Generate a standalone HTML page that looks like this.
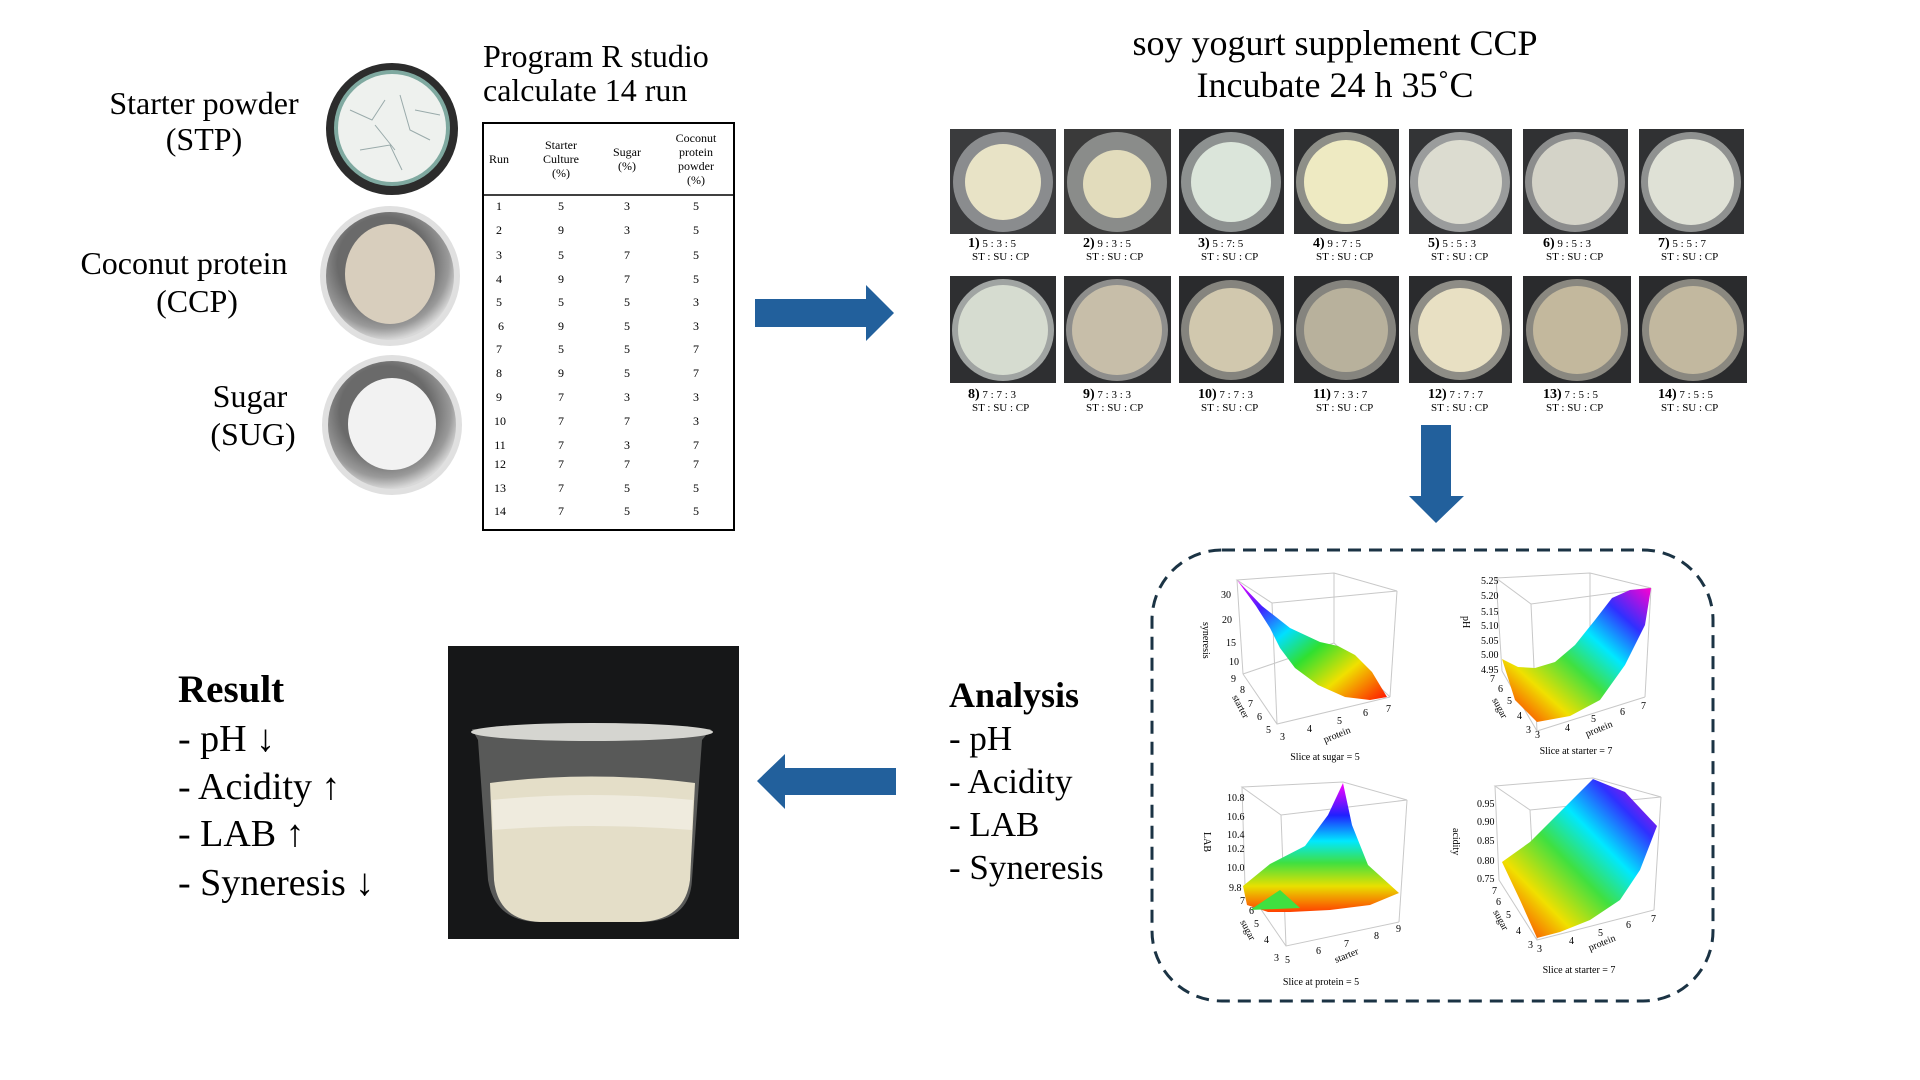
<!DOCTYPE html>
<html><head><meta charset="utf-8">
<style>
html,body{margin:0;padding:0;background:#fff;}
svg{display:block;}
text{font-family:"Liberation Serif",serif;fill:#000;}
.t{font-size:10px;fill:#222;}
</style></head>
<body>
<svg width="1920" height="1080" viewBox="0 0 1920 1080" xmlns="http://www.w3.org/2000/svg">
<defs>
<linearGradient id="rb1" x1="0" y1="0" x2="1" y2="1">
<stop offset="0" stop-color="#ff00ff"/><stop offset="0.2" stop-color="#4020ff"/><stop offset="0.38" stop-color="#00e0ff"/><stop offset="0.55" stop-color="#30e030"/><stop offset="0.75" stop-color="#f0e000"/><stop offset="1" stop-color="#ff1000"/>
</linearGradient>
<linearGradient id="rb2" x1="1" y1="0" x2="0" y2="1">
<stop offset="0" stop-color="#ff00d0"/><stop offset="0.2" stop-color="#3030ff"/><stop offset="0.38" stop-color="#00e8ff"/><stop offset="0.55" stop-color="#40e040"/><stop offset="0.75" stop-color="#f0e000"/><stop offset="1" stop-color="#ff1000"/>
</linearGradient>
<linearGradient id="rb3" x1="0" y1="0" x2="0" y2="1">
<stop offset="0" stop-color="#ff00ff"/><stop offset="0.25" stop-color="#2020ff"/><stop offset="0.45" stop-color="#00e8ff"/><stop offset="0.62" stop-color="#40e040"/><stop offset="0.8" stop-color="#e8e000"/><stop offset="1" stop-color="#ff4000"/>
</linearGradient>
<radialGradient id="metal" cx="0.45" cy="0.4" r="0.6">
<stop offset="0.6" stop-color="#6a6a6a"/><stop offset="0.85" stop-color="#9a9a9a"/><stop offset="1" stop-color="#d8d8d8"/>
</radialGradient>
</defs>

<!-- Left texts -->
<text x="204" y="114" font-size="32" text-anchor="middle">Starter powder</text>
<text x="204" y="150" font-size="32" text-anchor="middle">(STP)</text>
<text x="184" y="274" font-size="32" text-anchor="middle">Coconut protein</text>
<text x="197" y="312" font-size="32" text-anchor="middle">(CCP)</text>
<text x="250" y="407" font-size="32" text-anchor="middle">Sugar</text>
<text x="253" y="445" font-size="32" text-anchor="middle">(SUG)</text>

<!-- Dishes -->
<circle cx="392" cy="129" r="66" fill="#2c2c2c"/>
<circle cx="392" cy="128" r="58" fill="#7fa9a0"/>
<circle cx="392" cy="128" r="54" fill="#eef1ee"/>
<path d="M350 110 L372 120 L385 100 M400 95 L410 130 L430 140 M360 150 L390 145 L402 170 M375 125 L395 150 M415 110 L440 115" stroke="#9aa" stroke-width="1" fill="none"/>

<circle cx="390" cy="276" r="70" fill="#e0e0e0"/>
<circle cx="390" cy="276" r="64" fill="url(#metal)"/>
<ellipse cx="390" cy="274" rx="45" ry="50" fill="#d8cebd"/>
<circle cx="392" cy="425" r="70" fill="#e0e0e0"/>
<circle cx="392" cy="425" r="64" fill="url(#metal)"/>
<ellipse cx="392" cy="424" rx="44" ry="46" fill="#f2f2f2"/>

<!-- Program R studio -->
<text x="483" y="67" font-size="32">Program R studio</text>
<text x="483" y="101" font-size="32">calculate 14 run</text>

<!-- Table -->
<rect x="483" y="123" width="251" height="407" fill="none" stroke="#000" stroke-width="2"/>
<line x1="483" y1="195" x2="734" y2="195" stroke="#000" stroke-width="1.5"/>
<g font-size="12" text-anchor="middle">
<text x="499" y="163">Run</text>
<text x="561" y="149">Starter</text><text x="561" y="163">Culture</text><text x="561" y="177">(%)</text>
<text x="627" y="156">Sugar</text><text x="627" y="170">(%)</text>
<text x="696" y="142">Coconut</text><text x="696" y="156">protein</text><text x="696" y="170">powder</text><text x="696" y="184">(%)</text>
</g>
<g font-size="12" text-anchor="middle">
<text x="499" y="210">1</text><text x="561" y="210">5</text><text x="627" y="210">3</text><text x="696" y="210">5</text>
<text x="499" y="234">2</text><text x="561" y="234">9</text><text x="627" y="234">3</text><text x="696" y="234">5</text>
<text x="499" y="259">3</text><text x="561" y="259">5</text><text x="627" y="259">7</text><text x="696" y="259">5</text>
<text x="499" y="283">4</text><text x="561" y="283">9</text><text x="627" y="283">7</text><text x="696" y="283">5</text>
<text x="499" y="306">5</text><text x="561" y="306">5</text><text x="627" y="306">5</text><text x="696" y="306">3</text>
<text x="501" y="330">6</text><text x="561" y="330">9</text><text x="627" y="330">5</text><text x="696" y="330">3</text>
<text x="499" y="353">7</text><text x="561" y="353">5</text><text x="627" y="353">5</text><text x="696" y="353">7</text>
<text x="499" y="377">8</text><text x="561" y="377">9</text><text x="627" y="377">5</text><text x="696" y="377">7</text>
<text x="499" y="401">9</text><text x="561" y="401">7</text><text x="627" y="401">3</text><text x="696" y="401">3</text>
<text x="500" y="425">10</text><text x="561" y="425">7</text><text x="627" y="425">7</text><text x="696" y="425">3</text>
<text x="500" y="449">11</text><text x="561" y="449">7</text><text x="627" y="449">3</text><text x="696" y="449">7</text>
<text x="500" y="468">12</text><text x="561" y="468">7</text><text x="627" y="468">7</text><text x="696" y="468">7</text>
<text x="500" y="492">13</text><text x="561" y="492">7</text><text x="627" y="492">5</text><text x="696" y="492">5</text>
<text x="500" y="515">14</text><text x="561" y="515">7</text><text x="627" y="515">5</text><text x="696" y="515">5</text>
</g>

<!-- Right arrow -->
<polygon points="755,299 866,299 866,285 894,313 866,341 866,327 755,327" fill="#22609c"/>

<!-- Title right -->
<text x="1335" y="55" font-size="36" text-anchor="middle">soy yogurt supplement CCP</text>
<text x="1335" y="97" font-size="36" text-anchor="middle">Incubate 24 h 35˚C</text>

<!-- Photo grid -->
<g>
<rect x="950" y="129" width="106" height="105" fill="#3a3b3d"/><circle cx="1003" cy="182" r="50" fill="#8a8c8e"/><circle cx="1003" cy="182" r="38" fill="#e8e3c6"/>
<rect x="1064" y="129" width="107" height="105" fill="#3a3a3a"/><circle cx="1117" cy="182" r="50" fill="#8a8c8a"/><circle cx="1117" cy="184" r="34" fill="#e2dcbc"/>
<rect x="1179" y="129" width="105" height="105" fill="#2e2f31"/><circle cx="1231" cy="182" r="50" fill="#8d9190"/><circle cx="1231" cy="182" r="40" fill="#dbe5da"/>
<rect x="1294" y="129" width="105" height="105" fill="#2f3032"/><circle cx="1346" cy="182" r="50" fill="#8e8f88"/><circle cx="1346" cy="182" r="42" fill="#eeeac2"/>
<rect x="1409" y="129" width="103" height="105" fill="#333436"/><circle cx="1460" cy="182" r="50" fill="#9a9c9c"/><circle cx="1460" cy="182" r="42" fill="#dcdcd0"/>
<rect x="1523" y="129" width="105" height="105" fill="#303133"/><circle cx="1575" cy="182" r="50" fill="#8c8d8d"/><circle cx="1575" cy="182" r="43" fill="#d4d3c8"/>
<rect x="1639" y="129" width="105" height="105" fill="#303133"/><circle cx="1691" cy="182" r="50" fill="#8f9190"/><circle cx="1691" cy="182" r="43" fill="#dfe1d6"/>

<rect x="950" y="276" width="106" height="107" fill="#2e2f31"/><circle cx="1003" cy="330" r="51" fill="#a0a4a2"/><circle cx="1003" cy="330" r="45" fill="#d6dcd0"/>
<rect x="1064" y="276" width="107" height="107" fill="#2e2f31"/><circle cx="1117" cy="330" r="51" fill="#8e8e8c"/><circle cx="1117" cy="330" r="45" fill="#c7bea9"/>
<rect x="1179" y="276" width="105" height="107" fill="#2a2b2d"/><circle cx="1231" cy="330" r="50" fill="#85847e"/><circle cx="1231" cy="330" r="42" fill="#d1c8ae"/>
<rect x="1294" y="276" width="105" height="107" fill="#2a2b2d"/><circle cx="1346" cy="330" r="50" fill="#85847e"/><circle cx="1346" cy="330" r="42" fill="#b8b19c"/>
<rect x="1409" y="276" width="103" height="107" fill="#2a2b2d"/><circle cx="1460" cy="330" r="50" fill="#8e8d86"/><circle cx="1460" cy="330" r="42" fill="#e8e0c3"/>
<rect x="1523" y="276" width="108" height="107" fill="#2a2b2d"/><circle cx="1577" cy="330" r="51" fill="#8a8880"/><circle cx="1577" cy="330" r="44" fill="#c3b89d"/>
<rect x="1639" y="276" width="108" height="107" fill="#2a2b2d"/><circle cx="1693" cy="330" r="51" fill="#8a8880"/><circle cx="1693" cy="330" r="44" fill="#c2b89f"/>
</g>
<g font-size="11">
<text x="968" y="247"><tspan font-weight="bold" font-size="14">1)</tspan> 5 : 3 : 5</text>
<text x="1083" y="247"><tspan font-weight="bold" font-size="14">2)</tspan> 9 : 3 : 5</text>
<text x="1198" y="247"><tspan font-weight="bold" font-size="14">3)</tspan> 5 : 7: 5</text>
<text x="1313" y="247"><tspan font-weight="bold" font-size="14">4)</tspan> 9 : 7 : 5</text>
<text x="1428" y="247"><tspan font-weight="bold" font-size="14">5)</tspan> 5 : 5 : 3</text>
<text x="1543" y="247"><tspan font-weight="bold" font-size="14">6)</tspan> 9 : 5 : 3</text>
<text x="1658" y="247"><tspan font-weight="bold" font-size="14">7)</tspan> 5 : 5 : 7</text>
<text x="972" y="260">ST : SU : CP</text><text x="1086" y="260">ST : SU : CP</text><text x="1201" y="260">ST : SU : CP</text><text x="1316" y="260">ST : SU : CP</text><text x="1431" y="260">ST : SU : CP</text><text x="1546" y="260">ST : SU : CP</text><text x="1661" y="260">ST : SU : CP</text>
<text x="968" y="398"><tspan font-weight="bold" font-size="14">8)</tspan> 7 : 7 : 3</text>
<text x="1083" y="398"><tspan font-weight="bold" font-size="14">9)</tspan> 7 : 3 : 3</text>
<text x="1198" y="398"><tspan font-weight="bold" font-size="14">10)</tspan> 7 : 7 : 3</text>
<text x="1313" y="398"><tspan font-weight="bold" font-size="14">11)</tspan> 7 : 3 : 7</text>
<text x="1428" y="398"><tspan font-weight="bold" font-size="14">12)</tspan> 7 : 7 : 7</text>
<text x="1543" y="398"><tspan font-weight="bold" font-size="14">13)</tspan> 7 : 5 : 5</text>
<text x="1658" y="398"><tspan font-weight="bold" font-size="14">14)</tspan> 7 : 5 : 5</text>
<text x="972" y="411">ST : SU : CP</text><text x="1086" y="411">ST : SU : CP</text><text x="1201" y="411">ST : SU : CP</text><text x="1316" y="411">ST : SU : CP</text><text x="1431" y="411">ST : SU : CP</text><text x="1546" y="411">ST : SU : CP</text><text x="1661" y="411">ST : SU : CP</text>
</g>

<!-- Down arrow -->
<polygon points="1421,425 1451,425 1451,496 1464,496 1436,523 1409,496 1421,496" fill="#22609c"/>

<!-- Dashed box -->
<rect x="1152" y="550" width="561" height="451" rx="70" ry="70" fill="none" stroke="#1b3344" stroke-width="3" stroke-dasharray="13 8"/>

<!-- Analysis -->
<text x="949" y="707" font-size="36" font-weight="bold">Analysis</text>
<text x="949" y="750" font-size="35">- pH</text>
<text x="949" y="793" font-size="35">- Acidity</text>
<text x="949" y="836" font-size="35">- LAB</text>
<text x="949" y="879" font-size="35">- Syneresis</text>

<!-- Plot TL -->
<g stroke="#c8c8c8" stroke-width="1" fill="none">
<polygon points="1237,580 1334,573 1397,591 1272,603"/>
<line x1="1272" y1="603" x2="1277" y2="724"/><line x1="1397" y1="591" x2="1390" y2="697"/><line x1="1237" y1="580" x2="1243" y2="674"/><line x1="1334" y1="573" x2="1334" y2="643"/>
<polyline points="1243,674 1277,724 1390,697"/><polyline points="1243,674 1334,643 1390,697"/>
</g>
<polygon points="1237,580 1262,606 1290,628 1320,642 1338,646 1355,655 1372,672 1387,697 1370,700 1345,697 1318,685 1295,668 1280,648 1270,628 1256,606" fill="url(#rb1)"/>
<g class="t">
<text x="1221" y="598">30</text><text x="1222" y="623">20</text><text x="1226" y="646">15</text><text x="1229" y="665">10</text>
<text x="1231" y="682">9</text><text x="1240" y="693">8</text><text x="1248" y="707">7</text><text x="1257" y="720">6</text><text x="1266" y="733">5</text>
<text x="1280" y="740">3</text><text x="1307" y="732">4</text><text x="1337" y="724">5</text><text x="1363" y="716">6</text><text x="1386" y="712">7</text>
<text transform="translate(1203,622) rotate(90)">syneresis</text>
<text transform="translate(1232,697) rotate(62)">starter</text>
<text transform="translate(1325,743) rotate(-22)">protein</text>
<text x="1325" y="760" text-anchor="middle">Slice at sugar = 5</text>
</g>

<!-- Plot TR -->
<g stroke="#c8c8c8" stroke-width="1" fill="none">
<polygon points="1496,578 1590,573 1651,588 1531,604"/>
<line x1="1531" y1="604" x2="1537" y2="731"/><line x1="1651" y1="588" x2="1645" y2="697"/><line x1="1496" y1="578" x2="1502" y2="671"/><line x1="1590" y1="573" x2="1590" y2="640"/>
<polyline points="1502,671 1537,731 1645,697"/>
</g>
<polygon points="1502,659 1518,667 1535,668 1555,662 1575,645 1595,620 1612,598 1630,590 1651,588 1645,625 1625,665 1600,700 1570,716 1537,722 1515,700" fill="url(#rb2)"/>
<g class="t">
<text x="1481" y="584">5.25</text><text x="1481" y="599">5.20</text><text x="1481" y="615">5.15</text><text x="1481" y="629">5.10</text><text x="1481" y="644">5.05</text><text x="1481" y="658">5.00</text><text x="1481" y="673">4.95</text>
<text transform="translate(1463,616) rotate(90)">pH</text>
<text x="1490" y="682">7</text><text x="1498" y="692">6</text><text x="1507" y="704">5</text><text x="1517" y="719">4</text><text x="1526" y="733">3</text>
<text transform="translate(1492,700) rotate(62)">sugar</text>
<text x="1535" y="738">3</text><text x="1565" y="731">4</text><text x="1591" y="722">5</text><text x="1620" y="715">6</text><text x="1641" y="709">7</text>
<text transform="translate(1587,737) rotate(-22)">protein</text>
<text x="1576" y="754" text-anchor="middle">Slice at starter = 7</text>
</g>

<!-- Plot BL -->
<g stroke="#c8c8c8" stroke-width="1" fill="none">
<polygon points="1242,787 1343,782 1407,800 1281,815"/>
<line x1="1281" y1="815" x2="1286" y2="946"/><line x1="1407" y1="800" x2="1399" y2="922"/><line x1="1242" y1="787" x2="1245" y2="886"/>
<polyline points="1245,886 1286,946 1399,922"/>
</g>
<polygon points="1343,783 1352,825 1368,865 1399,893 1370,905 1330,910 1290,912 1268,912 1247,905 1243,886 1270,864 1305,846 1328,815" fill="url(#rb3)"/>
<polygon points="1250,910 1280,890 1300,908" fill="#40e040"/>
<g class="t">
<text x="1227" y="801">10.8</text><text x="1227" y="820">10.6</text><text x="1227" y="838">10.4</text><text x="1227" y="852">10.2</text><text x="1227" y="871">10.0</text><text x="1229" y="891">9.8</text>
<text transform="translate(1204,832) rotate(90)">LAB</text>
<text x="1240" y="904">7</text><text x="1249" y="914">6</text><text x="1254" y="927">5</text><text x="1264" y="943">4</text><text x="1274" y="961">3</text>
<text transform="translate(1240,922) rotate(62)">sugar</text>
<text x="1285" y="963">5</text><text x="1316" y="954">6</text><text x="1344" y="947">7</text><text x="1374" y="939">8</text><text x="1396" y="932">9</text>
<text transform="translate(1336,963) rotate(-22)">starter</text>
<text x="1321" y="985" text-anchor="middle">Slice at protein = 5</text>
</g>

<!-- Plot BR -->
<g stroke="#c8c8c8" stroke-width="1" fill="none">
<polygon points="1495,786 1593,778 1661,797 1530,810"/>
<line x1="1530" y1="810" x2="1537" y2="940"/><line x1="1661" y1="797" x2="1654" y2="910"/><line x1="1495" y1="786" x2="1499" y2="880"/>
<polyline points="1499,880 1537,940 1654,910"/>
</g>
<polygon points="1502,862 1530,842 1560,812 1593,779 1625,792 1657,826 1640,870 1620,900 1590,920 1560,932 1537,938 1520,900" fill="url(#rb2)"/>
<g class="t">
<text x="1477" y="807">0.95</text><text x="1477" y="825">0.90</text><text x="1477" y="844">0.85</text><text x="1477" y="864">0.80</text><text x="1477" y="882">0.75</text>
<text transform="translate(1453,828) rotate(90)">acidity</text>
<text x="1492" y="894">7</text><text x="1496" y="905">6</text><text x="1506" y="918">5</text><text x="1516" y="934">4</text><text x="1528" y="948">3</text>
<text transform="translate(1493,912) rotate(62)">sugar</text>
<text x="1537" y="952">3</text><text x="1569" y="944">4</text><text x="1598" y="936">5</text><text x="1626" y="928">6</text><text x="1651" y="922">7</text>
<text transform="translate(1590,951) rotate(-22)">protein</text>
<text x="1579" y="973" text-anchor="middle">Slice at starter = 7</text>
</g>

<!-- Left arrow -->
<polygon points="896,768 785,768 785,754 757,781 785,809 785,795 896,795" fill="#22609c"/>

<!-- Cup photo -->
<rect x="448" y="646" width="291" height="293" fill="#161718"/>
<path d="M472 729 L478 740 L488 880 Q495 922 540 922 L640 922 Q690 922 692 880 L702 740 L711 729 Z" fill="#9a9b98" opacity="0.5"/>
<path d="M490 783 Q590 770 695 783 L690 880 Q685 920 640 922 L540 922 Q498 920 494 880 Z" fill="#e4dec8"/>
<path d="M492 800 Q590 790 693 800 L692 830 Q590 822 493 830 Z" fill="#efebde"/>
<ellipse cx="592" cy="732" rx="121" ry="9" fill="#d5d5d0"/>

<!-- Result -->
<text x="178" y="702" font-size="39" font-weight="bold">Result</text>
<text x="178" y="751" font-size="38">- pH ↓</text>
<text x="178" y="799" font-size="38">- Acidity ↑</text>
<text x="178" y="846" font-size="38">- LAB ↑</text>
<text x="178" y="895" font-size="38">- Syneresis ↓</text>
</svg>
</body></html>
